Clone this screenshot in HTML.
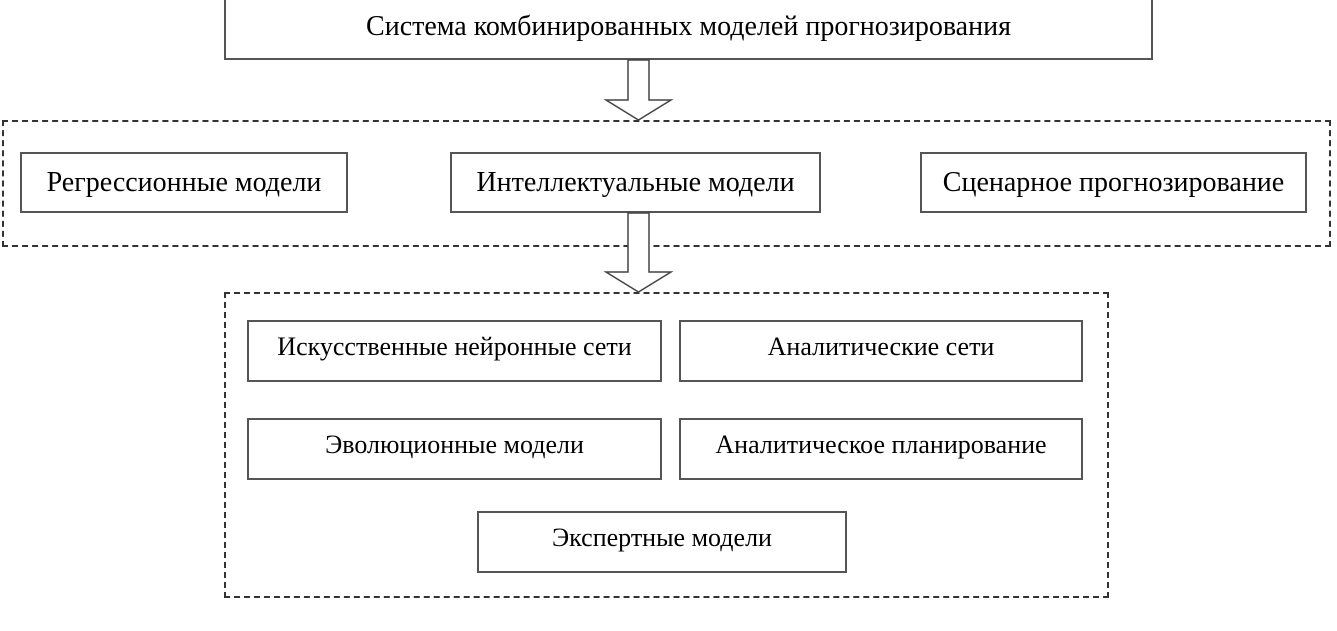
<!DOCTYPE html>
<html><head><meta charset="utf-8"><style>
body{margin:0;width:1337px;height:631px;background:#fff;position:relative;overflow:hidden;font-family:"Liberation Serif",serif;color:#000}
.b{position:absolute;border:2px solid #555;box-sizing:border-box;display:flex;align-items:center;justify-content:center;background:#fff;white-space:nowrap}
.d{position:absolute;border:2px dashed #333;box-sizing:border-box}
.t{font-size:28px}.s{font-size:26px;padding-bottom:8px}
</style></head><body>
<div class="d" style="left:2px;top:120px;width:1329px;height:127px"></div>
<div class="d" style="left:224px;top:292px;width:885px;height:306px"></div>
<div class="b t" style="left:224px;top:-2px;width:929px;height:62px;padding-bottom:4px">Система комбинированных моделей прогнозирования</div>
<div class="b t" style="left:20px;top:152px;width:328px;height:61px">Регрессионные модели</div>
<div class="b t" style="left:450px;top:152px;width:371px;height:61px">Интеллектуальные модели</div>
<div class="b t" style="left:920px;top:152px;width:387px;height:61px">Сценарное прогнозирование</div>
<div class="b s" style="left:247px;top:320px;width:415px;height:62px">Искусственные нейронные сети</div>
<div class="b s" style="left:679px;top:320px;width:404px;height:62px">Аналитические сети</div>
<div class="b s" style="left:247px;top:418px;width:415px;height:62px">Эволюционные модели</div>
<div class="b s" style="left:679px;top:418px;width:404px;height:62px">Аналитическое планирование</div>
<div class="b s" style="left:477px;top:511px;width:370px;height:62px">Экспертные модели</div>
<svg width="1337" height="631" style="position:absolute;left:0;top:0">
<polygon points="628,60 649,60 649,100 671,100 638.5,120 606,100 628,100" fill="#fff" stroke="#444" stroke-width="1.5"/>
<polygon points="628,213 649,213 649,272 671,272 638.5,292 606,272 628,272" fill="#fff" stroke="#444" stroke-width="1.5"/>
</svg>
</body></html>
